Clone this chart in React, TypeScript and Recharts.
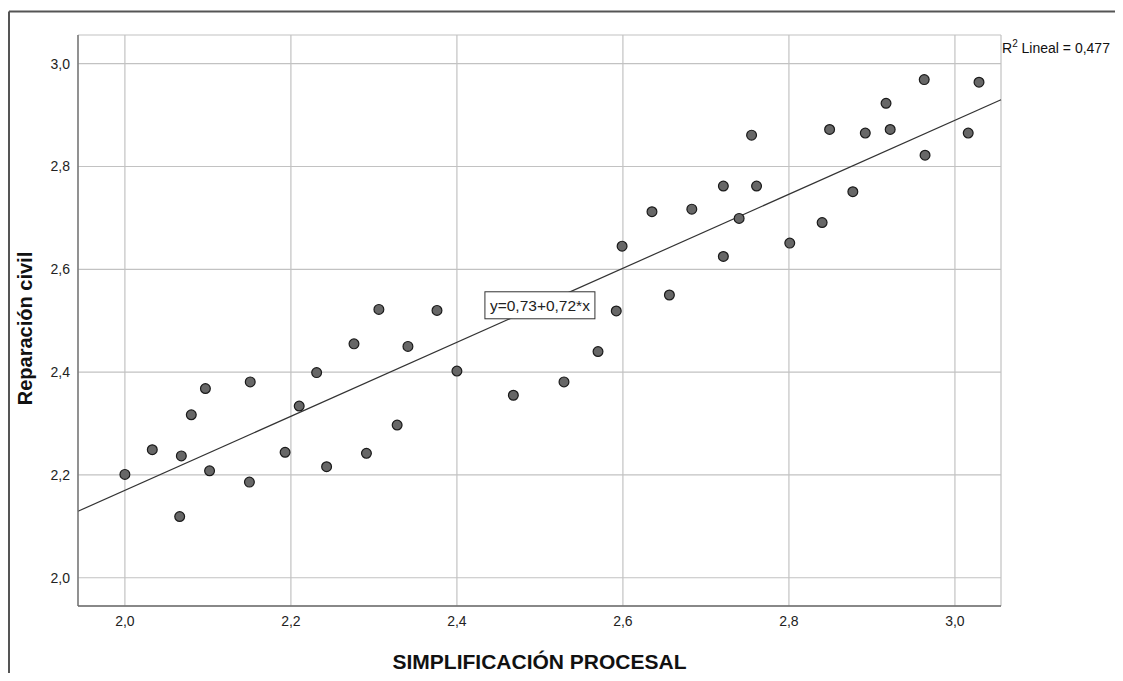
import React from 'react';
import {
  ScatterChart,
  Scatter,
  XAxis,
  YAxis,
  CartesianGrid,
  ReferenceLine,
  ReferenceDot,
  Label,
} from 'recharts';

// ---- data ----
const simplificacion = [
  2.0, 2.033, 2.068, 2.066, 2.08, 2.097, 2.102, 2.151, 2.15, 2.193, 2.21,
  2.231, 2.243, 2.276, 2.291, 2.306, 2.328, 2.341, 2.376, 2.4, 2.468, 2.529,
  2.57, 2.592, 2.599, 2.635, 2.656, 2.683, 2.721, 2.721, 2.74, 2.755, 2.761,
  2.801, 2.84, 2.849, 2.877, 2.892, 2.917, 2.922, 2.963, 2.964, 3.016, 3.029,
];
const reparacion = [
  2.201, 2.249, 2.237, 2.119, 2.317, 2.368, 2.208, 2.381, 2.186, 2.244, 2.334,
  2.399, 2.216, 2.455, 2.242, 2.522, 2.297, 2.45, 2.52, 2.402, 2.355, 2.381,
  2.44, 2.519, 2.645, 2.712, 2.55, 2.717, 2.762, 2.625, 2.699, 2.861, 2.762,
  2.651, 2.691, 2.872, 2.751, 2.865, 2.923, 2.872, 2.969, 2.822, 2.865, 2.964,
];
const xTicks = [2.0, 2.2, 2.4, 2.6, 2.8, 3.0];
const yTicks = [2.0, 2.2, 2.4, 2.6, 2.8, 3.0];
const xDomain = [1.9435, 3.0555];
const yDomain = [1.945, 3.0558];
const intercept = 0.73;
const slope = 0.72;
const labelX = 2.5;
const rSquared = '0,477';
const equationText = 'y=0,73+0,72*x';
const xTitle = 'SIMPLIFICACIÓN PROCESAL';
const yTitle = 'Reparación civil';

const points = simplificacion.map((x, i) => ({ x, y: reparacion[i] }));
const fitAt = (x: number) => intercept + slope * x;

const FONT = '"Liberation Sans", Arial, sans-serif';
const W = 1115;
const H = 665;

const fmt = (v: number) => v.toFixed(1).replace('.', ',');

const Dot = (props: any) => {
  const { cx, cy } = props;
  if (cx == null || cy == null) return null;
  return <circle cx={cx} cy={cy} r={4.9} fill="#676767" stroke="#1a1a1a" strokeWidth={1.2} />;
};

const EqBox = (props: any) => {
  const { cx, cy } = props;
  if (cx == null || cy == null) return null;
  const w = 110;
  const h = 27;
  return (
    <g>
      <rect x={cx - w / 2} y={cy - h / 2} width={w} height={h} fill="#fff" stroke="#333" strokeWidth={1} />
      <text x={cx} y={cy} dy="0.36em" textAnchor="middle" fontFamily={FONT} fontSize={15.5} fill="#222">
        {equationText}
      </text>
    </g>
  );
};

const YTitle = (props: any) => {
  const vb = props.viewBox || { x: 10, y: 27, width: 60, height: 571 };
  const x = vb.x + 14;
  const y = vb.y + vb.height / 2 + 8;
  return (
    <text
      x={x}
      y={y}
      transform={`rotate(-90 ${x} ${y})`}
      textAnchor="middle"
      fontFamily={FONT}
      fontWeight="bold"
      fontSize={20}
      fill="#111"
    >
      {yTitle}
    </text>
  );
};

const XTitle = (props: any) => {
  const vb = props.viewBox || { x: 70, y: 598, width: 923, height: 30 };
  const x = vb.x + vb.width / 2;
  const y = vb.y + 63;
  return (
    <text x={x} y={y} textAnchor="middle" fontFamily={FONT} fontWeight="bold" fontSize={21} fill="#111">
      {xTitle}
    </text>
  );
};

export default function App() {
  return (
    <div style={{ position: 'relative', width: W, height: H, overflow: 'hidden', background: '#fff' }}>
      <div style={{ position: 'absolute', left: 0, top: 0 }}>
        <ScatterChart width={W} height={H} margin={{ top: 27, right: 122, bottom: 37, left: 10 }}>
          <CartesianGrid stroke="#c2c2c2" strokeWidth={1.2} />
          <XAxis
            dataKey="x"
            type="number"
            domain={xDomain}
            allowDataOverflow
            ticks={xTicks}
            tickFormatter={fmt}
            tickLine={false}
            tickSize={6}
            tickMargin={4}
            height={30}
            axisLine={{ stroke: '#6b6b6b', strokeWidth: 1.3 }}
            tick={{ fill: '#222', fontSize: 14, fontFamily: FONT }}
          >
            <Label content={XTitle} />
          </XAxis>
          <YAxis
            dataKey="y"
            type="number"
            domain={yDomain}
            allowDataOverflow
            ticks={yTicks}
            tickFormatter={fmt}
            tickLine={false}
            tickSize={6}
            tickMargin={2}
            width={60}
            axisLine={{ stroke: '#6b6b6b', strokeWidth: 1.3 }}
            tick={{ fill: '#222', fontSize: 14, fontFamily: FONT }}
          >
            <Label content={YTitle} />
          </YAxis>
          <Scatter data={points} shape={Dot} isAnimationActive={false} />
          <ReferenceLine
            segment={[
              { x: xDomain[0], y: fitAt(xDomain[0]) },
              { x: xDomain[1], y: fitAt(xDomain[1]) },
            ]}
            stroke="#333"
            strokeWidth={1.2}
            ifOverflow="visible"
          />
          <ReferenceDot x={labelX} y={fitAt(labelX)} shape={EqBox} ifOverflow="visible" />
        </ScatterChart>
      </div>
      <svg
        width={W}
        height={H}
        style={{ position: 'absolute', left: 0, top: 0, pointerEvents: 'none' }}
      >
        <line x1={1} y1={3.5} x2={1110} y2={3.5} stroke="#555" strokeWidth={2} />
        <line x1={1} y1={3.5} x2={1} y2={H} stroke="#555" strokeWidth={2} />
        <text x={994} y={45} fontFamily={FONT} fontSize={14} fill="#111">
          R
          <tspan dy={-6} fontSize={10}>2</tspan>
          <tspan dy={6}>{` Lineal = ${rSquared}`}</tspan>
        </text>
      </svg>
    </div>
  );
}
